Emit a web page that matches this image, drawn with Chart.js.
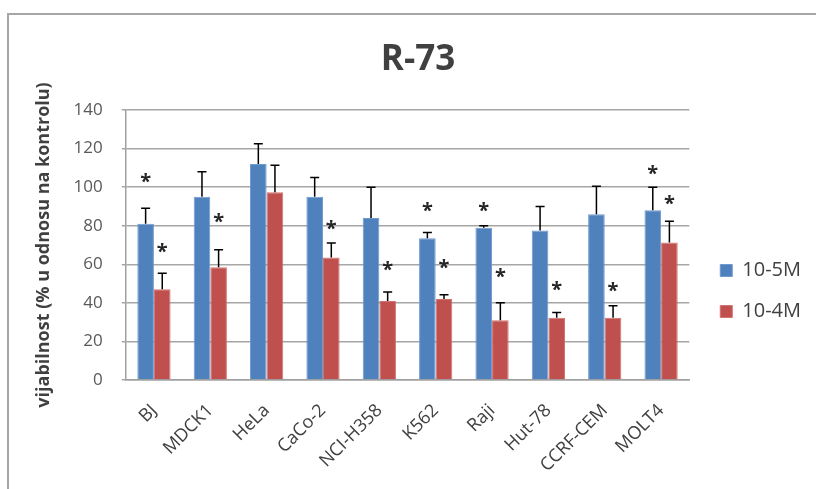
<!DOCTYPE html>
<html>
<head>
<meta charset="utf-8">
<script src="https://cdn.jsdelivr.net/npm/chart.js@4.4.1/dist/chart.umd.min.js"></script>
<style>
  html, body { margin: 0; padding: 0; background: #fff; overflow: hidden; }
  #frame {
    position: absolute; left: 7px; top: 13px; width: 830px; height: 500px;
    border-left: 2px solid #a6a6a6; border-top: 2px solid #a6a6a6;
  }
  /* canvas runs past the bottom edge so the right legend sits lower, like the original */
  #wrap { position: absolute; left: 10px; top: 16px; width: 816px; height: 550px; }
</style>
</head>
<body>
<div id="frame"></div>
<div id="wrap"><canvas id="chart"></canvas></div>
<script>
const cellLines = ["BJ", "MDCK1", "HeLa", "CaCo-2", "NCI-H358", "K562", "Raji", "Hut-78", "CCRF-CEM", "MOLT4"];
const yTicks = [0, 20, 40, 60, 80, 100, 120, 140];

const low = [81, 95, 112, 95, 84, 73.5, 79, 77.5, 86, 88];
const lowErr = [8, 13, 10.5, 10, 16, 3, 1, 12.5, 14.5, 12];
const lowStar = [104.6, null, null, null, null, 89.7, 89.7, null, null, 108.9];

const high = [47, 58.5, 97.4, 63.5, 41, 42, 31, 32.3, 32.3, 71.3];
const highErr = [8.4, 9, 14, 7.5, 4.6, 2.2, 9, 2.7, 6.2, 11];
const highStar = [68.7, 83.9, null, 80.4, 59.2, 60, 55.7, 48.8, 48, 93.4];

const errors = [lowErr, highErr];
const stars = [lowStar, highStar];

// error bars (upper only) and significance asterisks
const extrasPlugin = {
  id: "extras",
  afterDatasetsDraw(chart) {
    const ctx = chart.ctx;
    const y = chart.scales.y;
    ctx.save();
    chart.data.datasets.forEach((ds, di) => {
      const meta = chart.getDatasetMeta(di);
      meta.data.forEach((bar, i) => {
        const top = y.getPixelForValue(ds.data[i] + errors[di][i]);
        ctx.strokeStyle = "#000";
        ctx.lineWidth = 1.5;
        ctx.beginPath();
        ctx.moveTo(bar.x, bar.y);
        ctx.lineTo(bar.x, top);
        ctx.moveTo(bar.x - 4.5, top);
        ctx.lineTo(bar.x + 4.5, top);
        ctx.stroke();

        const s = stars[di][i];
        if (s != null) {
          ctx.font = "bold 20px 'Open Sans'";
          ctx.fillStyle = "#262626";
          ctx.textAlign = "center";
          ctx.textBaseline = "alphabetic";
          const m = ctx.measureText("*");
          const off = (m.actualBoundingBoxAscent - m.actualBoundingBoxDescent) / 2;
          ctx.fillText("*", bar.x, y.getPixelForValue(s) + off);
        }
      });
    });
    ctx.restore();
  },
};

new Chart(document.getElementById("chart"), {
  type: "bar",
  data: {
    labels: cellLines,
    datasets: [
      {
        label: "10-5M",
        data: low,
        backgroundColor: "#4f81bd",
        borderColor: "#6f9ad0",
        borderWidth: 1,
      },
      {
        label: "10-4M",
        data: high,
        backgroundColor: "#c0504d",
        borderColor: "#d17370",
        borderWidth: 1,
      },
    ],
  },
  options: {
    responsive: true,
    maintainAspectRatio: false,
    animation: false,
    categoryPercentage: 0.59,
    barPercentage: 1,
    layout: { padding: { left: 15, right: 15, top: 0, bottom: 0 } },
    plugins: {
      tooltip: { enabled: false },
      title: {
        display: true,
        text: "R-73",
        color: "#404040",
        font: { family: "'Open Sans'", size: 35, weight: "bold" },
        padding: { top: 23, bottom: 29 },
      },
      legend: {
        position: "right",
        labels: {
          color: "#404040",
          font: { family: "'Open Sans'", size: 20 },
          boxWidth: 12,
          boxHeight: 12,
          padding: 21,
        },
      },
    },
    scales: {
      x: {
        grid: { display: false, drawTicks: false },
        border: { color: "#a0a0a0", width: 1.5 },
        ticks: {
          color: "#404040",
          font: { family: "'Open Sans'", size: 18 },
          minRotation: 45,
          maxRotation: 45,
          padding: 20,
        },
        afterFit: (axis) => {
          axis.height = 186;
        },
      },
      y: {
        min: 0,
        max: 140,
        afterBuildTicks: (axis) => {
          axis.ticks = yTicks.map((v) => ({ value: v }));
        },
        grid: { color: "#a6a6a6", lineWidth: 1.5, tickLength: 4 },
        border: { color: "#a0a0a0", width: 1.5 },
        ticks: {
          color: "#595959",
          font: { family: "'Open Sans'", size: 17 },
          padding: 19,
        },
        title: {
          display: true,
          text: "vijabilnost (% u odnosu na kontrolu)",
          color: "#404040",
          font: { family: "'Open Sans'", size: 18, weight: "bold" },
          padding: { top: 8, bottom: 0 },
        },
      },
      // empty gap between plot and legend
      gap: {
        position: "right",
        grid: { display: false },
        border: { display: false },
        ticks: { display: false },
        afterFit: (axis) => {
          axis.width = 10;
        },
      },
    },
  },
  plugins: [extrasPlugin],
});
</script>
</body>
</html>
